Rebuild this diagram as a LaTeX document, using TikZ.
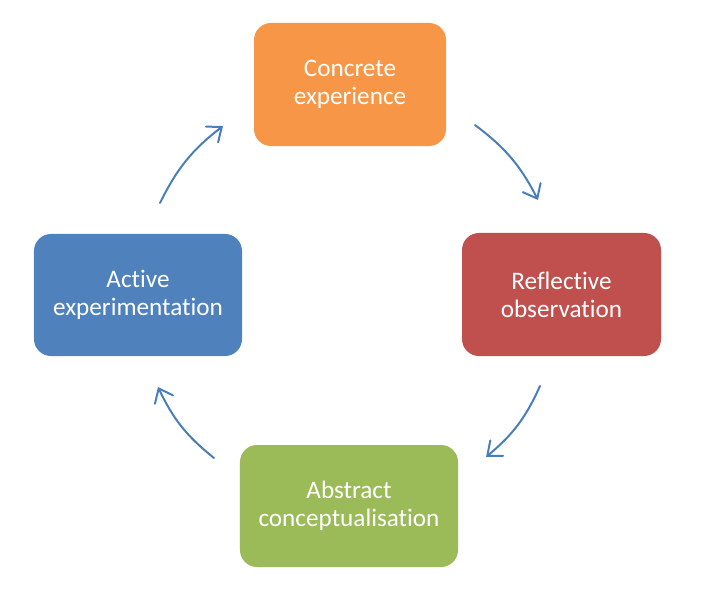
\documentclass[tikz,border=0pt]{standalone}
\usepackage{fontspec}
\setmainfont[Ligatures={NoCommon}]{Carlito}
\usetikzlibrary{arrows.meta}
\definecolor{corange}{HTML}{F79646}
\definecolor{cred}{HTML}{C0504D}
\definecolor{cgreen}{HTML}{9BBB59}
\definecolor{cblue}{HTML}{4F81BD}
\definecolor{carrow}{HTML}{4A7EBB}
\begin{document}
\begin{tikzpicture}[x=0.03cm,y=-0.03cm,
  stagebox/.style={rounded corners=14.5pt, inner sep=0pt, text=white, align=center,
    font=\fontsize{21.5pt}{24pt}\selectfont, minimum height=3.65cm},
  cyclearrow/.style={draw=carrow, line width=1.7pt, line cap=round,
    -{Straight Barb[length=10.5pt,width=17pt,line cap=round]}, bend left=13}]
\useasboundingbox (0,0) rectangle (705,594);
\node[stagebox, fill=corange, minimum width=5.76cm, minimum height=3.69cm] (ce) at (350,84.5) {Concrete\\experience};
\node[stagebox, fill=cred, minimum width=5.97cm, minimum height=3.69cm] (ro) at (561.5,294.5) {Reflective\\observation};
\node[stagebox, fill=cgreen, minimum width=6.54cm, minimum height=3.66cm] (ac) at (349,506) {Abstract\\conceptualisation};
\node[stagebox, fill=cblue, minimum width=6.24cm, minimum height=3.66cm] (ae) at (138,295) {Active\\experimentation};
\coordinate (a1s) at (475,125);
\coordinate (a1e) at (538,200);
\coordinate (a2s) at (540,386);
\coordinate (a2e) at (486,457);
\coordinate (a3s) at (214,458);
\coordinate (a3e) at (158,387);
\coordinate (a4s) at (160,203);
\coordinate (a4e) at (223,126);
\draw[cyclearrow] (a1s) to (a1e);
\draw[cyclearrow] (a2s) to (a2e);
\draw[cyclearrow] (a3s) to (a3e);
\draw[cyclearrow] (a4s) to (a4e);
\end{tikzpicture}
\end{document}
